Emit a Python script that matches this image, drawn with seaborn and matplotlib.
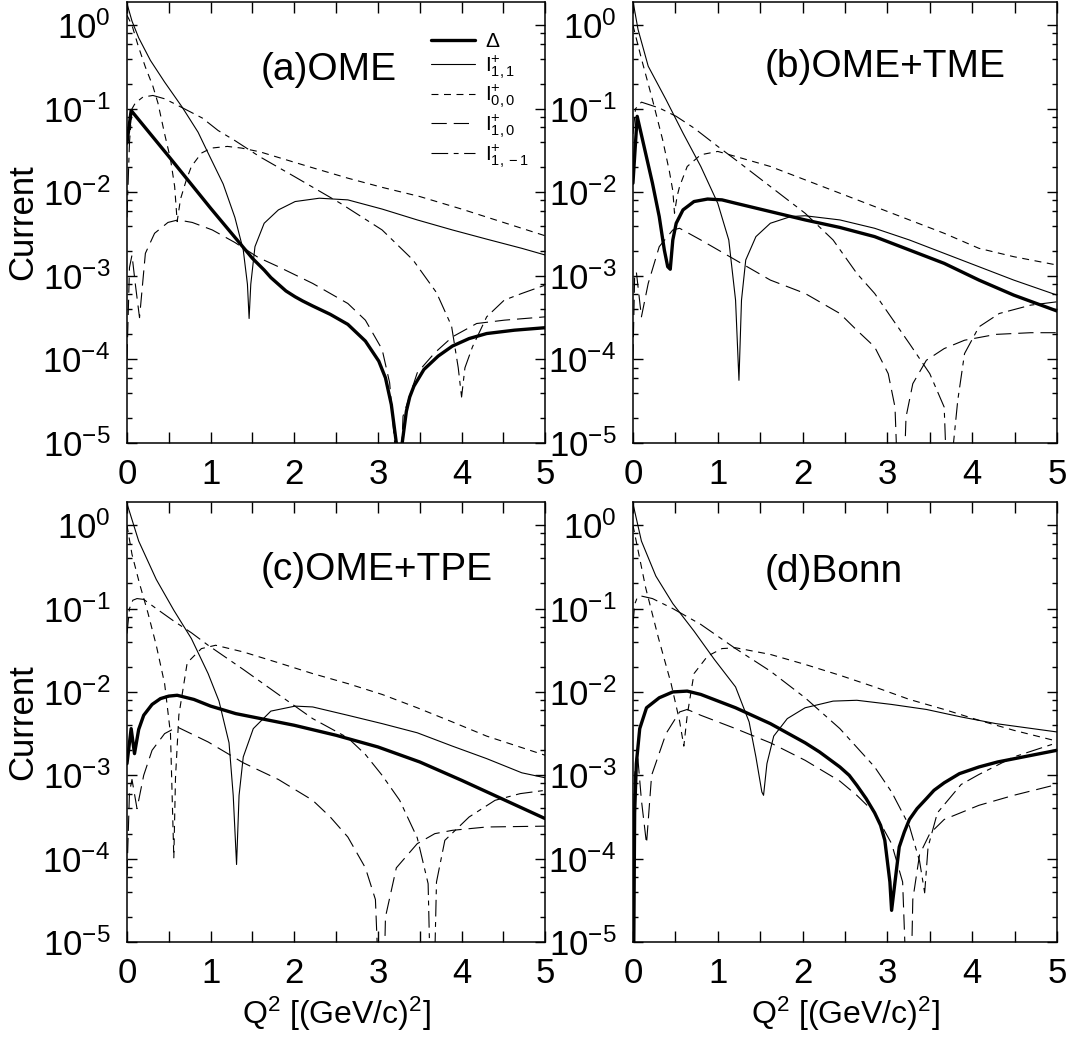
import numpy as np
import matplotlib
matplotlib.use("Agg")
import matplotlib.pyplot as plt
import matplotlib.ticker as mticker
import seaborn as sns

# values: Q^2 positions and log10(current)
# panel (a) OME
q_delta_a = [0, 0.05, 0.5, 1.0, 1.4, 1.5, 1.64, 1.72, 1.81, 1.9, 2.01, 2.1, 2.22, 2.43, 2.64, 2.85, 3.01, 3.09, 3.16, 3.22, 3.25, 3.29, 3.34, 3.38, 3.43, 3.55, 3.72, 3.89, 4.09, 4.3, 4.63, 5.0]
lg_delta_a = [-1.41, -1.02, -1.57, -2.19, -2.67, -2.79, -2.93, -3.02, -3.1, -3.18, -3.25, -3.3, -3.36, -3.46, -3.58, -3.78, -4.02, -4.22, -4.54, -5.0, -6.5, -5.0, -4.62, -4.45, -4.32, -4.12, -3.96, -3.84, -3.75, -3.69, -3.65, -3.62]
q_i11_a = [0, 0.06, 0.14, 0.28, 0.45, 0.66, 0.85, 0.97, 1.15, 1.29, 1.39, 1.44, 1.46, 1.48, 1.53, 1.64, 1.81, 2.01, 2.3, 2.64, 3.05, 3.47, 3.89, 4.3, 4.72, 5.0]
lg_i11_a = [0.26, 0.05, -0.15, -0.42, -0.68, -0.98, -1.28, -1.53, -1.9, -2.3, -2.69, -3.1, -3.51, -3.1, -2.65, -2.37, -2.21, -2.11, -2.07, -2.09, -2.20, -2.33, -2.45, -2.56, -2.67, -2.75]
q_i00_a = [0, 0.06, 0.135, 0.22, 0.31, 0.37, 0.45, 0.52, 0.57, 0.6, 0.64, 0.71, 0.77, 0.89, 1.01, 1.2, 1.37, 1.59, 1.77, 2.2, 2.64, 3.05, 3.5, 4.0, 4.5, 5.0]
lg_i00_a = [0.12, 0.0, -0.25, -0.5, -0.73, -0.93, -1.3, -1.6, -1.93, -2.35, -2.08, -1.85, -1.69, -1.53, -1.47, -1.45, -1.47, -1.515, -1.57, -1.7, -1.83, -1.94, -2.05, -2.2, -2.36, -2.52]
q_i10_a = [0, 0.03, 0.06, 0.1, 0.15, 0.22, 0.33, 0.49, 0.61, 0.78, 1.02, 1.29, 1.57, 1.81, 2.22, 2.64, 2.85, 3.05, 3.14, 3.2, 3.23, 3.3, 3.47, 3.68, 3.89, 4.18, 4.51, 5.0]
lg_i10_a = [-4.0, -2.9, -2.75, -3.1, -3.5, -2.73, -2.49, -2.36, -2.33, -2.36, -2.45, -2.60, -2.78, -2.89, -3.09, -3.33, -3.53, -3.88, -4.28, -5.0, -6.5, -4.68, -4.16, -3.92, -3.73, -3.57, -3.53, -3.49]
q_i1m1_a = [0, 0.03, 0.06, 0.1, 0.19, 0.31, 0.45, 0.57, 0.9, 1.09, 1.29, 1.59, 2.0, 2.55, 3.05, 3.42, 3.7, 3.88, 3.96, 4.0, 4.04, 4.13, 4.3, 4.51, 4.72, 5.0]
lg_i1m1_a = [-2.3, -1.4, -1.0, -0.93, -0.86, -0.84, -0.88, -0.94, -1.11, -1.26, -1.38, -1.575, -1.81, -2.13, -2.45, -2.81, -3.2, -3.6, -4.1, -4.45, -4.1, -3.85, -3.49, -3.29, -3.21, -3.11]

# panel (b) OME+TME
q_delta_b = [0, 0.05, 0.14, 0.23, 0.31, 0.37, 0.41, 0.44, 0.47, 0.51, 0.59, 0.72, 0.88, 1.05, 1.21, 1.62, 2.03, 2.44, 2.85, 3.26, 3.67, 4.08, 4.49, 5.0]
lg_delta_b = [-1.89, -1.09, -1.49, -1.89, -2.29, -2.69, -2.89, -2.92, -2.57, -2.37, -2.21, -2.11, -2.08, -2.09, -2.13, -2.23, -2.33, -2.42, -2.53, -2.69, -2.85, -3.05, -3.23, -3.42]
q_i11_b = [0, 0.06, 0.18, 0.39, 0.59, 0.8, 1.0, 1.13, 1.21, 1.25, 1.28, 1.33, 1.45, 1.62, 1.86, 2.03, 2.44, 2.85, 3.26, 3.67, 4.08, 4.49, 5.0]
lg_i11_b = [0.29, -0.05, -0.49, -0.89, -1.29, -1.69, -2.13, -2.57, -3.29, -4.25, -3.29, -2.81, -2.53, -2.37, -2.29, -2.28, -2.33, -2.43, -2.57, -2.73, -2.89, -3.05, -3.23]
q_i00_b = [0, 0.1, 0.23, 0.35, 0.43, 0.47, 0.49, 0.52, 0.55, 0.64, 0.8, 1.0, 1.21, 1.62, 2.03, 2.44, 2.85, 3.26, 3.67, 4.08, 4.49, 5.0]
lg_i00_b = [0.0, -0.4, -0.89, -1.37, -1.75, -1.98, -2.25, -2.05, -1.93, -1.69, -1.55, -1.51, -1.57, -1.69, -1.85, -2.01, -2.17, -2.33, -2.49, -2.67, -2.77, -2.87]
q_i10_b = [0, 0.02, 0.04, 0.1, 0.18, 0.31, 0.47, 0.55, 0.8, 1.21, 1.62, 2.03, 2.44, 2.64, 2.85, 3.01, 3.09, 3.16, 3.22, 3.3, 3.46, 3.67, 3.91, 4.28, 4.69, 5.0]
lg_i10_b = [-4.0, -3.0, -2.95, -3.49, -3.09, -2.65, -2.45, -2.43, -2.57, -2.81, -3.05, -3.21, -3.45, -3.65, -3.85, -4.17, -4.57, -6.5, -4.69, -4.29, -4.01, -3.87, -3.77, -3.70, -3.68, -3.68]
q_i1m1_b = [0, 0.03, 0.1, 0.31, 0.51, 0.72, 1.0, 1.21, 1.62, 2.03, 2.36, 2.64, 2.85, 3.26, 3.5, 3.67, 3.74, 3.78, 3.83, 3.91, 4.08, 4.32, 4.69, 5.0]
lg_i1m1_b = [-1.3, -1.0, -0.92, -0.99, -1.09, -1.23, -1.45, -1.61, -1.93, -2.25, -2.57, -2.97, -3.21, -3.81, -4.17, -4.57, -6.5, -5.0, -4.49, -3.93, -3.61, -3.45, -3.35, -3.31]

# panel (c) OME+TPE
q_delta_c = [0, 0.05, 0.09, 0.14, 0.2, 0.3, 0.4, 0.5, 0.6, 0.8, 1.0, 1.3, 1.6, 2.0, 2.5, 3.0, 3.5, 4.0, 4.5, 5.0]
lg_delta_c = [-2.86, -2.44, -2.74, -2.45, -2.28, -2.15, -2.08, -2.05, -2.04, -2.09, -2.17, -2.26, -2.32, -2.40, -2.52, -2.66, -2.84, -3.06, -3.29, -3.52]
q_i11_c = [0, 0.14, 0.35, 0.56, 0.77, 0.97, 1.1, 1.22, 1.27, 1.31, 1.34, 1.39, 1.51, 1.72, 2.01, 2.22, 2.64, 3.05, 3.47, 3.89, 4.3, 4.72, 5.0]
lg_i11_c = [0.26, -0.19, -0.65, -1.02, -1.36, -1.78, -2.11, -2.61, -3.24, -4.07, -3.24, -2.78, -2.44, -2.23, -2.17, -2.18, -2.28, -2.38, -2.49, -2.65, -2.8, -2.97, -3.03]
q_i00_c = [0, 0.06, 0.15, 0.25, 0.35, 0.45, 0.52, 0.56, 0.58, 0.62, 0.72, 0.89, 1.06, 1.39, 1.81, 2.22, 2.64, 3.05, 3.47, 3.89, 4.3, 5.0]
lg_i00_c = [0.0, -0.35, -0.7, -1.05, -1.44, -1.9, -2.5, -3.99, -3.03, -2.28, -1.65, -1.48, -1.44, -1.52, -1.65, -1.78, -1.9, -2.03, -2.19, -2.36, -2.53, -2.76]
q_i10_c = [0, 0.03, 0.06, 0.12, 0.2, 0.3, 0.45, 0.6, 0.97, 1.39, 1.81, 2.22, 2.43, 2.64, 2.85, 2.97, 3.05, 3.09, 3.22, 3.47, 3.68, 3.89, 4.3, 5.0]
lg_i10_c = [-4.2, -3.2, -3.05, -3.4, -3.0, -2.7, -2.5, -2.42, -2.6, -2.85, -3.05, -3.3, -3.5, -3.74, -4.11, -4.49, -6.5, -4.7, -4.11, -3.82, -3.7, -3.66, -3.62, -3.61]
q_i1m1_c = [0, 0.03, 0.07, 0.12, 0.2, 0.35, 0.56, 0.77, 0.97, 1.39, 1.81, 2.22, 2.64, 2.85, 3.05, 3.26, 3.47, 3.6, 3.65, 3.7, 3.8, 4.09, 4.4, 4.7, 5.0]
lg_i1m1_c = [-1.3, -1.0, -0.9, -0.88, -0.89, -1.0, -1.15, -1.29, -1.44, -1.73, -2.03, -2.32, -2.55, -2.75, -3.0, -3.3, -3.75, -4.3, -6.5, -4.28, -3.78, -3.5, -3.3, -3.22, -3.18]

# panel (d) Bonn
q_delta_d = [0, 0.01, 0.02, 0.04, 0.08, 0.16, 0.31, 0.47, 0.64, 0.8, 1.21, 1.62, 2.03, 2.2, 2.44, 2.55, 2.64, 2.75, 2.85, 2.92, 2.97, 3.03, 3.05, 3.09, 3.14, 3.2, 3.26, 3.35, 3.46, 3.55, 3.67, 3.85, 4.08, 4.3, 4.7, 5.0]
lg_delta_d = [-6.0, -5.0, -3.45, -2.86, -2.44, -2.19, -2.07, -2.0, -1.99, -2.03, -2.19, -2.38, -2.61, -2.72, -2.9, -3.0, -3.12, -3.28, -3.45, -3.6, -3.78, -4.28, -4.62, -4.28, -3.86, -3.68, -3.53, -3.4, -3.28, -3.18, -3.09, -2.98, -2.9, -2.84, -2.76, -2.7]
q_i11_d = [0, 0.1, 0.27, 0.47, 0.72, 0.96, 1.21, 1.37, 1.45, 1.52, 1.54, 1.58, 1.66, 1.82, 2.03, 2.36, 2.64, 3.05, 3.46, 3.87, 4.28, 5.0]
lg_i11_d = [0.26, -0.19, -0.61, -0.94, -1.27, -1.61, -1.94, -2.36, -2.78, -3.2, -3.24, -2.86, -2.53, -2.32, -2.19, -2.11, -2.1, -2.15, -2.21, -2.3, -2.38, -2.48]
q_i00_d = [0, 0.06, 0.15, 0.3, 0.45, 0.55, 0.6, 0.64, 0.72, 0.88, 1.05, 1.21, 1.62, 2.03, 2.44, 2.85, 3.26, 3.67, 4.08, 4.49, 5.0]
lg_i00_d = [0.0, -0.3, -0.75, -1.35, -1.9, -2.35, -2.65, -2.28, -1.78, -1.57, -1.48, -1.47, -1.55, -1.67, -1.8, -1.94, -2.09, -2.21, -2.34, -2.46, -2.59]
q_i10_d = [0, 0.02, 0.05, 0.1, 0.16, 0.22, 0.39, 0.55, 0.64, 0.8, 1.21, 1.62, 2.03, 2.44, 2.64, 2.85, 3.05, 3.18, 3.26, 3.3, 3.38, 3.5, 3.67, 4.08, 4.49, 5.0]
lg_i10_d = [-4.2, -3.0, -2.7, -3.3, -3.82, -3.0, -2.5, -2.24, -2.21, -2.28, -2.44, -2.61, -2.82, -3.07, -3.24, -3.45, -3.82, -4.28, -6.5, -4.49, -3.95, -3.7, -3.53, -3.36, -3.24, -3.11]
q_i1m1_d = [0, 0.02, 0.05, 0.1, 0.23, 0.47, 0.8, 1.21, 1.62, 2.03, 2.44, 2.85, 3.05, 3.26, 3.38, 3.44, 3.48, 3.59, 3.87, 4.08, 4.49, 5.0]
lg_i1m1_d = [-1.2, -0.95, -0.87, -0.85, -0.88, -1.0, -1.19, -1.48, -1.75, -2.07, -2.44, -2.9, -3.2, -3.61, -4.03, -4.41, -3.86, -3.45, -3.11, -2.99, -2.78, -2.61]

panel_titles = ["(a)OME", "(b)OME+TME", "(c)OME+TPE", "(d)Bonn"]
curve_labels = [r"$\Delta$", r"$\mathregular{I^{+}_{1,1}}$", r"$\mathregular{I^{+}_{0,0}}$",
                r"$\mathregular{I^{+}_{1,0}}$", r"$\mathregular{I^{+}_{1,-1}}$"]

sns.set_style("ticks")
plt.rcParams["font.family"] = ["Liberation Sans", "DejaVu Sans"]
plt.rcParams["mathtext.fontset"] = "custom"
plt.rcParams["mathtext.rm"] = "Liberation Sans"
plt.rcParams["mathtext.it"] = "Liberation Sans:italic"
plt.rcParams["lines.scale_dashes"] = False
for key in ["text.color", "axes.labelcolor", "axes.edgecolor", "xtick.color", "ytick.color"]:
    plt.rcParams[key] = "black"

line_styles = [
    dict(linewidth=2.4, linestyle="-"),
    dict(linewidth=0.8, linestyle="-"),
    dict(linewidth=0.8, linestyle=(0, (5, 4))),
    dict(linewidth=0.8, linestyle=(0, (11, 5))),
    dict(linewidth=0.8, linestyle=(0, (12, 4, 3.5, 4))),
]

panels = [
    [(q_delta_a, lg_delta_a), (q_i11_a, lg_i11_a), (q_i00_a, lg_i00_a), (q_i10_a, lg_i10_a), (q_i1m1_a, lg_i1m1_a)],
    [(q_delta_b, lg_delta_b), (q_i11_b, lg_i11_b), (q_i00_b, lg_i00_b), (q_i10_b, lg_i10_b), (q_i1m1_b, lg_i1m1_b)],
    [(q_delta_c, lg_delta_c), (q_i11_c, lg_i11_c), (q_i00_c, lg_i00_c), (q_i10_c, lg_i10_c), (q_i1m1_c, lg_i1m1_c)],
    [(q_delta_d, lg_delta_d), (q_i11_d, lg_i11_d), (q_i00_d, lg_i00_d), (q_i10_d, lg_i10_d), (q_i1m1_d, lg_i1m1_d)],
]

# axes boxes in figure fractions (left, bottom, width, height)
boxes = [
    (0.119, 0.5765, 0.392, 0.4216),
    (0.5932, 0.5765, 0.3974, 0.4216),
    (0.119, 0.0994, 0.392, 0.4207),
    (0.5932, 0.0994, 0.3974, 0.4207),
]
title_pos = [(0.32, 0.846), (0.31, 0.853), (0.32, 0.845), (0.31, 0.84)]

fig = plt.figure(figsize=(10.67, 10.46), dpi=100)

for i, curves in enumerate(panels):
    ax = fig.add_axes(boxes[i])
    ax.set_yscale("log")
    for j, (q, lg) in enumerate(curves):
        sns.lineplot(x=q, y=10.0 ** np.array(lg), ax=ax, color="black",
                     estimator=None, sort=False, legend=False,
                     label=curve_labels[j], **line_styles[j])
    ax.set_xlim(0, 5)
    ax.set_ylim(1e-5, 1.9)
    ax.xaxis.set_major_locator(mticker.MultipleLocator(1))
    ax.xaxis.set_minor_locator(mticker.MultipleLocator(0.5))
    ax.yaxis.set_major_locator(mticker.LogLocator(base=10, numticks=10))
    ax.yaxis.set_minor_locator(mticker.LogLocator(base=10, subs=[2, 4, 6, 8], numticks=10))
    ax.yaxis.set_minor_formatter(mticker.NullFormatter())
    ax.tick_params(which="both", direction="in", top=True, right=True, width=1.0, labelsize=25)
    ax.tick_params(axis="x", which="both", length=8, pad=11)
    ax.tick_params(axis="y", which="major", length=7, pad=12)
    ax.tick_params(axis="y", which="minor", length=3.6)
    for sp in ax.spines.values():
        sp.set_linewidth(1.1)
    ax.text(title_pos[i][0], title_pos[i][1], panel_titles[i], transform=ax.transAxes,
            fontsize=28, va="center", ha="left")
    if i in (0, 2):
        ax.set_ylabel("Current", fontsize=25, labelpad=2)
    else:
        ax.set_ylabel("")
    if i in (2, 3):
        ax.set_xlabel(r"Q$^2$ [(GeV/c)$^2$]", fontsize=23, labelpad=3)
    else:
        ax.set_xlabel("")
    if i == 0:
        ax.legend(loc="upper left", bbox_to_anchor=(0.703, 0.955), frameon=False,
                  fontsize=15, handlelength=2.1, handletextpad=0.45,
                  labelspacing=0.1, borderpad=0)

fig.savefig("out.png", dpi=100)
